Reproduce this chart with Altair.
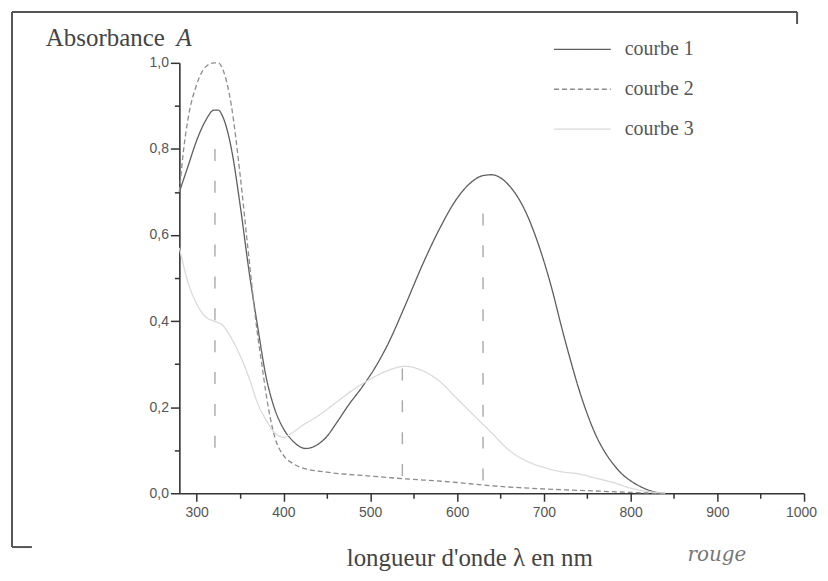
import altair as alt
import pandas as pd

# ---- data ----
wl1 = [280, 290, 300, 310, 320, 325, 330, 340, 350, 360, 370, 380, 390, 400, 410, 420, 425, 430, 440, 450,
       460, 475, 490, 505, 520, 540, 560, 580, 600, 615, 630, 640, 650, 660, 670, 680, 690, 700, 710, 720,
       730, 740, 750, 760, 770, 780, 790, 800, 810, 820, 830, 840]
a1 = [0.70, 0.76, 0.82, 0.865, 0.89, 0.89, 0.875, 0.80, 0.67, 0.52, 0.39, 0.27, 0.195, 0.15, 0.123, 0.107, 0.104, 0.105,
      0.114, 0.132, 0.16, 0.205, 0.245, 0.29, 0.345, 0.435, 0.53, 0.615, 0.685, 0.72, 0.738, 0.74, 0.733, 0.715,
      0.688, 0.65, 0.60, 0.54, 0.47, 0.39, 0.315, 0.245, 0.185, 0.135, 0.097, 0.068, 0.045, 0.029, 0.017,
      0.008, 0.002, 0.0]

wl2 = [280, 285, 290, 300, 310, 320, 325, 330, 340, 350, 360, 370, 375, 380, 390, 400, 410, 420, 450, 500,
       530, 600, 630, 700, 750, 800, 830]
a2 = [0.70, 0.80, 0.87, 0.95, 0.99, 1.0, 1.0, 0.985, 0.90, 0.74, 0.55, 0.37, 0.30, 0.23, 0.13, 0.088, 0.07,
      0.06, 0.049, 0.04, 0.035, 0.025, 0.019, 0.01, 0.006, 0.002, 0.0]

wl3 = [280, 290, 300, 310, 320, 330, 340, 350, 360, 370, 380, 390, 400, 410, 420, 440, 460, 480, 500, 520,
       540, 560, 580, 600, 620, 640, 660, 680, 700, 720, 740, 760, 780, 800, 820, 840]
a3 = [0.57, 0.49, 0.44, 0.41, 0.40, 0.39, 0.36, 0.32, 0.27, 0.21, 0.17, 0.14, 0.13, 0.14, 0.155, 0.18, 0.21,
      0.24, 0.265, 0.285, 0.295, 0.285, 0.26, 0.22, 0.18, 0.14, 0.10, 0.075, 0.06, 0.05, 0.045, 0.035, 0.025,
      0.012, 0.004, 0.0]

series = ["courbe 1", "courbe 2", "courbe 3"]
series_colors = ["#5e5e5e", "#8c8c8c", "#dadada"]
series_dash = [[1, 0], [5, 3], [1, 0]]

vl_lam = [321, 537, 630]
vl_top = [0.80, 0.29, 0.65]
vl_bot = [0.10, 0.03, 0.01]

x_ticks = list(range(300, 1001, 50))
y_ticks = [i / 10 for i in range(0, 11)]

df = pd.concat([
    pd.DataFrame({"lam": wl1, "A": a1, "serie": series[0], "o": 3}),
    pd.DataFrame({"lam": wl2, "A": a2, "serie": series[1], "o": 2}),
    pd.DataFrame({"lam": wl3, "A": a3, "serie": series[2], "o": 1}),
], ignore_index=True)
dfv = pd.DataFrame({"lam": vl_lam, "top": vl_top, "bot": vl_bot})

W, H = 627, 432
xscale = alt.Scale(domain=[280, 1000], nice=False, zero=False)
yscale = alt.Scale(domain=[0, 1], nice=False, zero=False)

xaxis = alt.Axis(
    values=x_ticks, format="d",
    labelExpr="datum.value % 100 === 0 ? datum.label : ''",
    tickSize={"condition": {"test": "datum.value % 100 === 0", "value": 8}, "value": 5},
    labelOffset={"condition": {"test": "datum.value === 1000", "value": -3}, "value": 0},
    grid=False, domainColor="#333", domainWidth=1.6, tickColor="#333", tickWidth=1.5,
    labelFont="Liberation Sans", labelFontSize=14, labelColor="#555", labelPadding=4,
    labelFlush=False,
    title="longueur d'onde λ en nm", titleFont="Liberation Serif", titleFontSize=25,
    titleFontWeight="normal", titleColor="#444", titleX=291, titleY=73,
    titleBaseline="alphabetic", titleAlign="center", titleAnchor="start",
)
yaxis = alt.Axis(
    values=y_ticks,
    labelExpr="round(datum.value*10) % 2 === 0 ? replace(format(datum.value, '.1f'), '.', ',') : ''",
    tickSize={"condition": {"test": "round(datum.value*10) % 2 === 0", "value": 9}, "value": 5},
    grid=False, domainColor="#333", domainWidth=1.6, tickColor="#333", tickWidth=1.5,
    labelFont="Liberation Sans", labelFontSize=14, labelColor="#555", labelPadding=2,
    labelFlush=False,
    title=None,
)

lines = alt.Chart(df).mark_line(strokeWidth=1.3, interpolate="monotone").encode(
    x=alt.X("lam:Q", scale=xscale, axis=xaxis),
    y=alt.Y("A:Q", scale=yscale, axis=yaxis),
    color=alt.Color("serie:N", scale=alt.Scale(domain=series, range=series_colors),
                    legend=alt.Legend(orient="none", legendX=375, legendY=-43, title=None,
                                      symbolType="stroke", symbolSize=3249, symbolStrokeWidth=1.3,
                                      labelFont="Liberation Serif", labelFontSize=20, labelColor="#555",
                                      labelOffset=13, rowPadding=0)),
    strokeDash=alt.StrokeDash("serie:N", scale=alt.Scale(domain=series, range=series_dash), legend=None),
    order=alt.Order("o:Q"),
)

vlines = alt.Chart(dfv).mark_rule(color="#a8a8a8", strokeWidth=1.4, strokeDash=[12, 20]).encode(
    x=alt.X("lam:Q", scale=xscale), y=alt.Y("top:Q", scale=yscale), y2="bot:Q"
)

one = pd.DataFrame({"k": [0]})


def frame(x1, y1, x2, y2):
    return alt.Chart(one).mark_rule(color="#555", strokeWidth=2).encode(
        x=alt.value(x1), x2=alt.value(x2), y=alt.value(y1), y2=alt.value(y2))


frames = [
    frame(-168, -51, 620, -51),
    frame(-168, -51, -168, 486),
    frame(-168, 486, -148, 486),
    frame(620, -51, 620, -39),
]

ytitle1 = alt.Chart(one).mark_text(align="left", baseline="alphabetic", font="Liberation Serif",
                                   fontSize=25, color="#444").encode(
    x=alt.value(-134), y=alt.value(-17), text=alt.value("Absorbance"))
ytitle2 = alt.Chart(one).mark_text(align="left", baseline="alphabetic", font="Liberation Serif",
                                   fontSize=25, fontStyle="italic", color="#444").encode(
    x=alt.value(-3), y=alt.value(-17), text=alt.value("A"))
note = alt.Chart(one).mark_text(align="left", baseline="alphabetic", font="DejaVu Serif",
                                fontSize=20, fontStyle="italic", color="#777").encode(
    x=alt.value(510), y=alt.value(500), text=alt.value("rouge"))

chart = alt.layer(vlines, lines, *frames, ytitle1, ytitle2, note).properties(
    width=W, height=H,
    autosize=alt.AutoSizeParams(type="none"),
    padding={"left": 172, "top": 54, "right": 16, "bottom": 79},
).configure(background="white", view=alt.ViewConfig(stroke="transparent"))

chart.save("out.html", embed_options={"renderer": "svg", "actions": False})
